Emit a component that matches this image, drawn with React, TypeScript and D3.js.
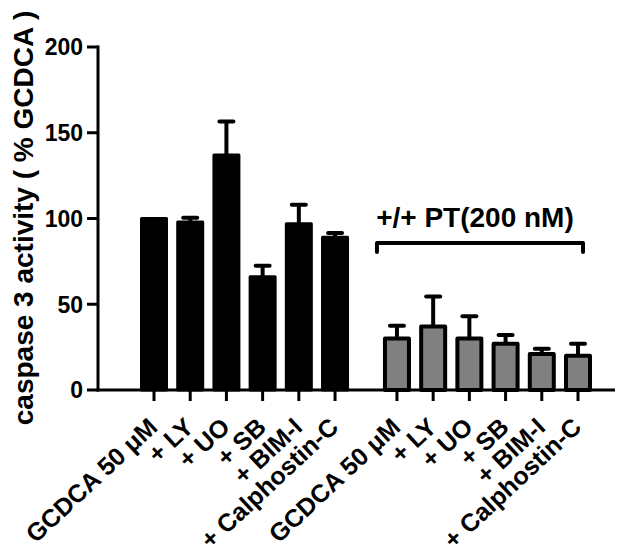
import React from "react";
import * as d3 from "d3";

const categories = ["GCDCA 50 \u03bcM", "+ LY", "+ UO", "+ SB", "+ BIM-I", "+ Calphostin-C"];
const controlMeans = [100, 98, 137, 66, 97, 89];
const controlErrs = [0, 2.5, 19.5, 6.5, 11, 2.5];
const ptMeans = [30, 37, 30, 27, 21, 20];
const ptErrs = [7.5, 17.5, 13, 5, 3, 7];
const yTicks = [0, 50, 100, 150, 200];
const groupLabel = "+/+ PT(200 nM)";
const yTitle = "caspase 3 activity ( % GCDCA )";

const W = 622, H = 557;
const FONT = "Liberation Sans, Arial, Helvetica, sans-serif";

export default function App() {
  const y = d3.scaleLinear().domain([0, 200]).range([390, 47]);
  const GAP = 0.71;
  const x = d3.scaleLinear().domain([0, 11 + GAP]).range([154, 578]);
  const barW = 28;
  const axisX = 98;

  const bars = [
    ...controlMeans.map((v, i) => ({ v, e: controlErrs[i], pos: i, label: categories[i], g: 0 })),
    ...ptMeans.map((v, i) => ({ v, e: ptErrs[i], pos: 6 + GAP + i, label: categories[i], g: 1 })),
  ];

  const bracketL = x(6 + GAP) - 20;
  const bracketR = x(11 + GAP) + 5;
  const bracketY = 243;

  return (
    <svg width={W} height={H} style={{ position: "absolute", left: 0, top: 0, background: "#fff" }} fontFamily={FONT} fontWeight="bold">
      {/* y title */}
      <text transform={`translate(33,218) rotate(-90)`} textAnchor="middle" fontSize={28}>{yTitle}</text>
      {/* y axis */}
      <line x1={axisX} x2={axisX} y1={y(200) - 1.5} y2={y(0) + 1.5} stroke="#000" strokeWidth={3} />
      {yTicks.map((t) => (
        <g key={t}>
          <line x1={axisX - 11} x2={axisX} y1={y(t)} y2={y(t)} stroke="#000" strokeWidth={3} />
          <text x={83} y={y(t)} dy="0.36em" textAnchor="end" fontSize={23}>{t}</text>
        </g>
      ))}
      {/* bars */}
      {bars.map((b, i) => {
        const cx = x(b.pos);
        const sw = b.g === 0 ? 3 : 4;
        const top = y(b.v);
        const capY = y(b.v + b.e);
        return (
          <g key={i}>
            {b.e > 0 && (
              <>
                <line x1={cx} x2={cx} y1={top} y2={capY} stroke="#000" strokeWidth={4} />
                <line x1={cx - 7} x2={cx + 7} y1={capY} y2={capY} stroke="#000" strokeWidth={4} strokeLinecap="round" />
              </>
            )}
            <rect
              x={cx - barW / 2 + sw / 2}
              y={top}
              width={barW - sw}
              height={y(0) - top}
              fill={b.g === 0 ? "#000" : "#808080"}
              stroke="#000"
              strokeWidth={sw}
              strokeLinejoin="round"
            />
            <line x1={cx} x2={cx} y1={y(0)} y2={y(0) + 11} stroke="#000" strokeWidth={3} />
            <text
              transform={`translate(${cx + 5},${429}) rotate(-43)`}
              textAnchor="end"
              fontSize={25}
            >
              {b.label}
            </text>
          </g>
        );
      })}
      {/* x axis */}
      <line x1={axisX - 1.5} x2={615} y1={y(0)} y2={y(0)} stroke="#000" strokeWidth={3} />
      {/* bracket */}
      <path
        d={`M${bracketL},${bracketY + 9}V${bracketY}H${bracketR}V${bracketY + 9}`}
        fill="none"
        stroke="#000"
        strokeWidth={4}
        strokeLinecap="round"
        strokeLinejoin="round"
      />
      <text x={(bracketL + bracketR) / 2 - 5} y={227} textAnchor="middle" fontSize={28}>{groupLabel}</text>
    </svg>
  );
}
